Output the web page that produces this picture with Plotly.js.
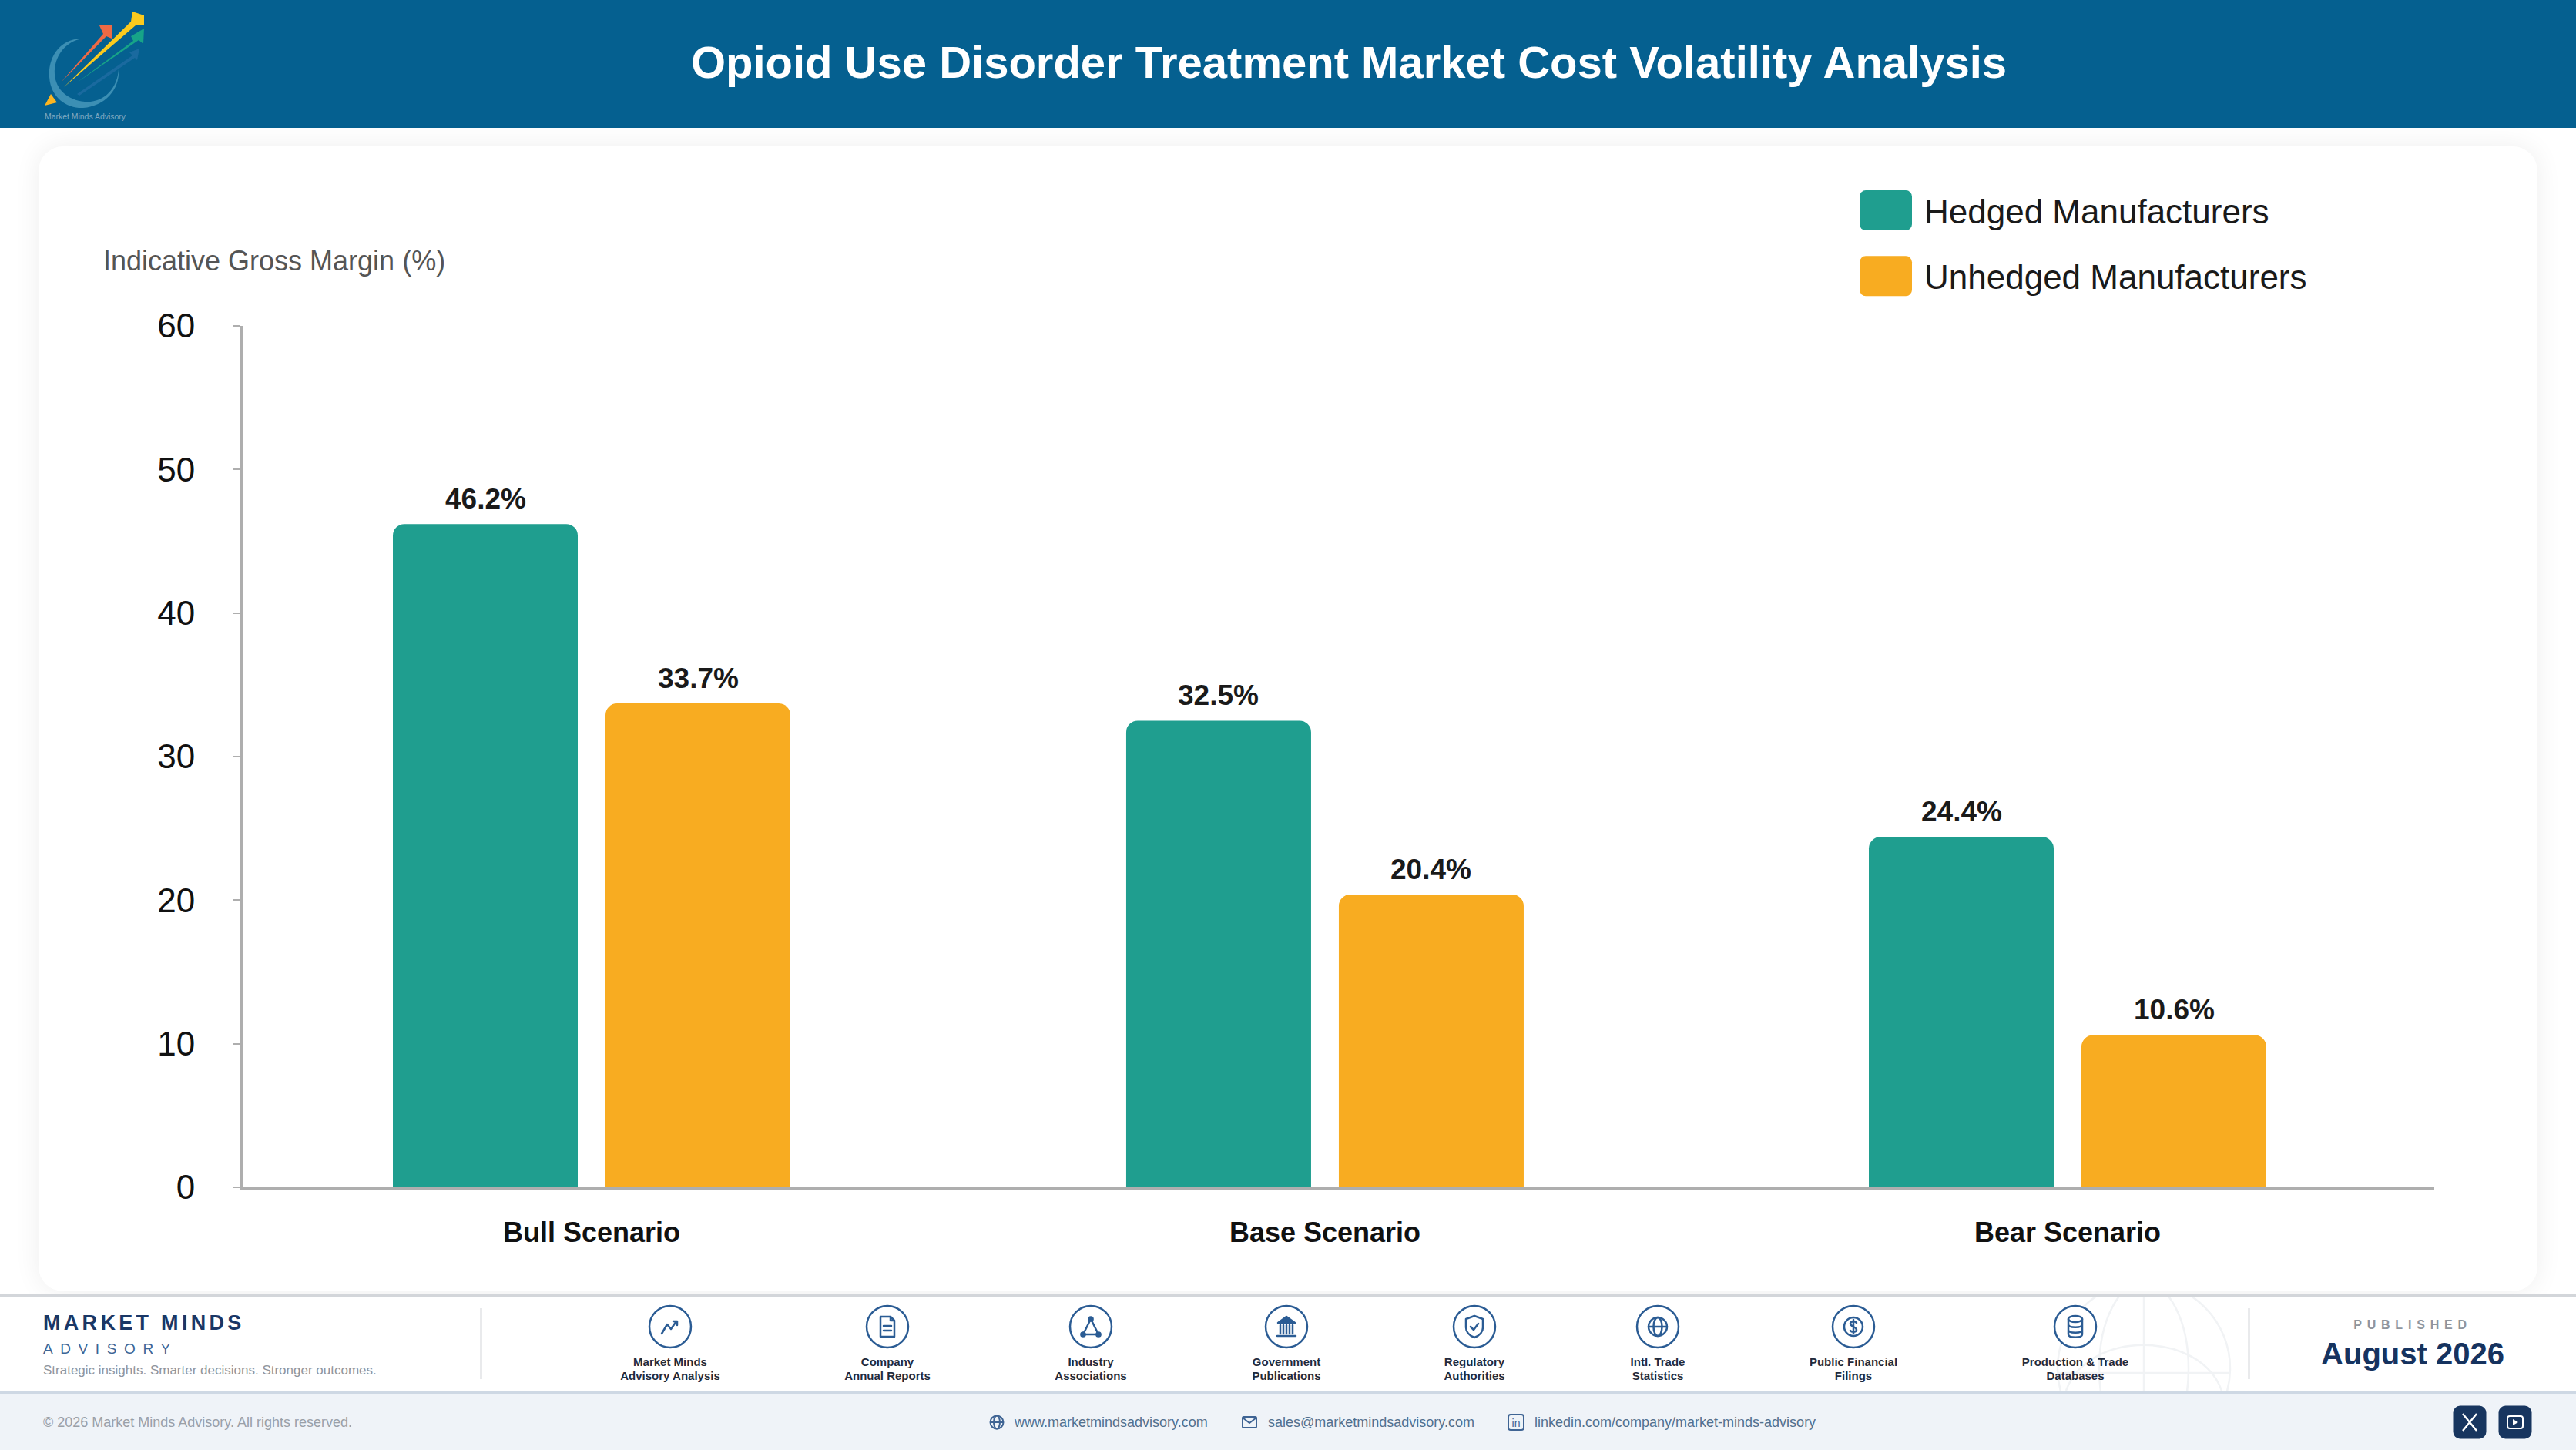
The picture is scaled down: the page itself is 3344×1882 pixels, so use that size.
<!DOCTYPE html>
<html>
<head>
<meta charset="utf-8">
<script src="https://cdn.plot.ly/plotly-3.0.1.min.js"></script>
<style>
html,body{margin:0;padding:0;width:3344px;height:1882px;overflow:hidden;background:#fff;font-family:"Liberation Sans",Arial,sans-serif}
.abs{position:absolute}
.t{position:absolute;white-space:nowrap;line-height:1}
#plot{position:absolute;left:0;top:0;width:3344px;height:1882px;z-index:5}
</style>
</head>
<body>
<div class="abs" style="left:0;top:0;width:3344px;height:166px;background:#056090"></div>
<svg class="abs" style="left:0;top:0;width:220px;height:166px" viewBox="0 0 220 166">
  <path d="M107 50 C75 50 62 78 64 100 C66 128 88 141 108 140 C136 138 156 116 154 90 C152 116 134 134 110 132 C88 130 72 116 71 96 C70 74 84 54 107 50Z" fill="#3c8fb4"/>
  <path d="M100 122 L172 72 L168 68 L181 63 L178 78 L175 75 L103 124Z" fill="#1a6a9f"/>
  <path d="M100 107 L173 53 L170 47 L187 37 L186 57 L180 52Z" fill="#17a488"/>
  <path d="M79 107 L134 44 L129 33 L145 32 L145 50 L138 47Z" fill="#ee6a45"/>
  <path d="M83 113 L170 28 L172 15 L187 20 L187 33 L176 33Z" fill="#fbca1d"/>
  <path d="M66 122 L58 137 L74 133Z" fill="#fbb521"/>
  <text x="58" y="155" font-size="11" fill="#7fa9c2" font-family="Liberation Sans" textLength="105" lengthAdjust="spacingAndGlyphs">Market Minds Advisory</text>
</svg>

<div class="abs" style="left:50px;top:190px;width:3244px;height:1486px;background:#fff;border-radius:32px;box-shadow:0 0 34px rgba(0,0,0,.07)"></div>

<div class="abs" style="left:0;top:1679px;width:3344px;background:#fff;border-top:4px solid #d3d6da;border-bottom:4px solid #ced8e4;box-sizing:border-box;height:130px"></div>
<div class="abs" style="left:0;top:1809px;width:3344px;height:73px;background:#eff3f8"></div>

<svg class="abs" style="left:2640px;top:1684px;width:290px;height:121px" viewBox="0 0 290 121" fill="none" stroke="#f1f3f5" stroke-width="2.5">
  <circle cx="143" cy="92" r="112"/>
  <ellipse cx="143" cy="92" rx="58" ry="112"/>
  <path d="M143 -20 V121"/>
  <path d="M31 98 H255"/>
  <path d="M42 121 C70 42 216 42 244 121"/>
</svg>

<div id="foot"></div>
<div id="plot"></div>

<script>
// ---- chart data ----
var scenarios = ['Bull Scenario', 'Base Scenario', 'Bear Scenario'];
var scenarioSlots = [0, 0.9937, 2];
var hedged = [46.2, 32.5, 24.4];
var unhedged = [33.7, 20.4, 10.6];
var yTicks = [0, 10, 20, 30, 40, 50, 60];
var seriesNames = ['Hedged Manufacturers', 'Unhedged Manufacturers'];
var chartTitle = 'Opioid Use Disorder Treatment Market Cost Volatility Analysis';
var yTitle = 'Indicative Gross Margin (%)';

// ---- footer content ----
var sourceLabels = [
  ['Market Minds', 'Advisory Analysis'], ['Company', 'Annual Reports'], ['Industry', 'Associations'],
  ['Government', 'Publications'], ['Regulatory', 'Authorities'], ['Intl. Trade', 'Statistics'],
  ['Public Financial', 'Filings'], ['Production & Trade', 'Databases']
];
var sourceCentres = [870, 1152, 1416, 1670, 1914, 2152, 2406, 2694];
var sourceIcons = [
  '<path d="M-11 9 L-4 -3 L1 3 L8 -7 M4 -7 H9 V-2" fill="none"/>',
  '<path d="M-9 -13 H4 L9 -8 V13 H-9Z M4 -13 V-8 H9 M-5 -1 H5 M-5 5 H5" fill="none"/>',
  '<path d="M0 -10 L-10 10 H10Z" fill="none"/><circle cx="0" cy="-10" r="2.6" fill="#2b5c94"/><circle cx="-10" cy="10" r="2.6" fill="#2b5c94"/><circle cx="10" cy="10" r="2.6" fill="#2b5c94"/>',
  '<path d="M0 -13 L11 -5 H-11Z" fill="#2b5c94"/><path d="M-8 -2 V9 M-4 -2 V9 M0 -2 V9 M4 -2 V9 M8 -2 V9 M-12 12 H12" fill="none"/>',
  '<path d="M0 -14 L11 -10 V1 C11 8 5 12 0 14 C-5 12 -11 8 -11 1 V-10Z" fill="none"/><path d="M-5 0 L-1 4 L5 -4" fill="none"/>',
  '<circle r="12" fill="none"/><ellipse rx="5.5" ry="12" fill="none"/><path d="M-12 0 H12" fill="none"/>',
  '<circle r="12" fill="none"/><path d="M4 -5 C2 -8 -4 -7 -4 -4 C-4 0 4 0 4 4 C4 7 -2 8 -4 5 M0 -9 V9" fill="none"/>',
  '<ellipse cy="-10" rx="9" ry="4" fill="none"/><path d="M-9 -10 V10 C-9 15 9 15 9 10 V-10 M-9 -3 C-9 2 9 2 9 -3 M-9 4 C-9 9 9 9 9 4" fill="none"/>'
];
var contacts = [
  {x: 1317, text: 'www.marketmindsadvisory.com'},
  {x: 1646, text: 'sales@marketmindsadvisory.com'},
  {x: 1992, text: 'linkedin.com/company/market-minds-advisory'}
];

var foot = document.getElementById('foot');
function addText(str, x, y, css, centre) {
  var d = document.createElement('div');
  d.className = 't';
  d.textContent = str;
  d.style.cssText = 'left:' + x + 'px;top:' + y + 'px;transform:translate(' + (centre ? '-50%' : '0') + ',-50%);' + css;
  foot.appendChild(d);
}
function addSvg(x, y, w, h, inner, extra) {
  var wrap = document.createElement('div');
  wrap.className = 'abs';
  wrap.style.cssText = 'left:' + (x - w / 2) + 'px;top:' + (y - h / 2) + 'px;width:' + w + 'px;height:' + h + 'px;' + (extra || '');
  wrap.innerHTML = '<svg width="' + w + '" height="' + h + '" viewBox="' + (-w / 2) + ' ' + (-h / 2) + ' ' + w + ' ' + h + '">' + inner + '</svg>';
  foot.appendChild(wrap);
}
addText('MARKET MINDS', 56, 1717, 'font-size:27px;font-weight:bold;letter-spacing:4.3px;color:#1a3766');
addText('ADVISORY', 56, 1750, 'font-size:19px;letter-spacing:9.6px;color:#3c6596');
addText('Strategic insights. Smarter decisions. Stronger outcomes.', 56, 1778, 'font-size:17px;color:#8f959d');
addSvg(624, 1744, 3, 92, '<rect x="-1" y="-46" width="2" height="92" fill="#d3d6da"/>');
addSvg(2919, 1744, 3, 92, '<rect x="-1" y="-46" width="2" height="92" fill="#d3d6da"/>');
sourceLabels.forEach(function (lines, i) {
  var cx = sourceCentres[i];
  addSvg(cx, 1722, 60, 60, '<g fill="none" stroke="#2b5c94" stroke-width="2.5" stroke-linejoin="round" stroke-linecap="round"><circle r="27" fill="#fff"/>' + sourceIcons[i] + '</g>');
  addText(lines[0], cx, 1767, 'font-size:15px;font-weight:bold;color:#1f2b3d', true);
  addText(lines[1], cx, 1785, 'font-size:15px;font-weight:bold;color:#1f2b3d', true);
});
addText('PUBLISHED', 3132, 1720, 'font-size:16px;font-weight:bold;letter-spacing:6.8px;color:#8f959d', true);
addText('August 2026', 3132, 1757, 'font-size:40px;font-weight:bold;color:#16335f', true);
addText('\u00A9 2026 Market Minds Advisory. All rights reserved.', 56, 1846, 'font-size:18px;color:#9aa0a8');
contacts.forEach(function (c) {
  addText(c.text, c.x, 1846, 'font-size:18px;color:#52708f');
});
var cIcon = 'fill="none" stroke="#3f6494" stroke-width="2" stroke-linejoin="round"';
addSvg(1294, 1846, 24, 24, '<g ' + cIcon + '><circle r="8.5"/><ellipse rx="4" ry="8.5"/><path d="M-8.5 0 H8.5"/></g>');
addSvg(1622, 1846, 24, 24, '<g ' + cIcon + '><rect x="-9" y="-7" width="18" height="14" rx="1.5"/><path d="M-9 -6 L0 1 L9 -6"/></g>');
addSvg(1968, 1846, 26, 26, '<g ' + cIcon + '><rect x="-10" y="-10" width="20" height="20" rx="3"/></g><text x="0" y="5.5" text-anchor="middle" font-size="14" fill="#3f6494" font-family="Liberation Sans">in</text>');
addSvg(3206, 1846, 44, 44, '<rect x="-21.5" y="-21.5" width="43" height="43" rx="9" fill="#17355f"/><path d="M-9 -11 L9 11 M9 -11 L-9 11" stroke="#fff" stroke-width="2.4" fill="none"/>');
addSvg(3265, 1846, 44, 44, '<rect x="-21.5" y="-21.5" width="43" height="43" rx="9" fill="#17355f"/><rect x="-10" y="-8" width="20" height="16" rx="3" stroke="#fff" stroke-width="2" fill="none"/><path d="M-3 -4 L4 0 L-3 4Z" fill="#fff"/>');

// ---- chart ----
var FONT = '"Liberation Sans", Arial, sans-serif';
var teal = '#1f9e8f', amber = '#f8ac21';
var W = 3344, H = 1882, plotL = 315, plotR = 3160, plotT = 423, plotB = 1541;
var pitch = 958, groupCentre = 768;
function xAt(px) { return (px - groupCentre) / pitch; }

function barTrace(name, values, colour, offsetPx, group) {
  return {
    type: 'bar', name: name, x: scenarioSlots, y: values,
    width: 240 / pitch, offset: offsetPx / pitch, legendgroup: group,
    marker: {color: colour, cornerradius: 15, line: {width: 0}},
    hoverinfo: 'skip'
  };
}
var traces = [
  barTrace(seriesNames[0], hedged, teal, -258, 'a'),
  barTrace(seriesNames[1], unhedged, amber, 18, 'b')
];

var labelAnnotations = [];
function addLabels(values, offsetPx) {
  values.forEach(function (v, i) {
    labelAnnotations.push({
      x: scenarioSlots[i] + (offsetPx + 120) / pitch, y: v, xref: 'x', yref: 'y',
      text: v.toFixed(1) + '%', showarrow: false, xanchor: 'center', yanchor: 'bottom', yshift: 10,
      font: {family: FONT, size: 37, color: '#1a1a1a', weight: 'bold'}
    });
  });
}
addLabels(hedged, -258);
addLabels(unhedged, 18);
labelAnnotations.push({
  xref: 'paper', yref: 'paper', x: (132 - plotL) / (plotR - plotL), y: 1 + (plotT - 339) / (plotB - plotT),
  text: yTitle, showarrow: false, xanchor: 'left', yanchor: 'middle',
  font: {family: FONT, size: 36, color: '#555555'}
});

var layout = {
  width: W, height: H, autosize: false,
  margin: {l: plotL, r: W - plotR, t: plotT, b: H - plotB, pad: 0},
  paper_bgcolor: 'rgba(0,0,0,0)', plot_bgcolor: 'rgba(0,0,0,0)',
  font: {family: FONT},
  title: {
    text: chartTitle, xref: 'container', yref: 'container', x: 1751 / W, y: 1 - 81 / H,
    xanchor: 'center', yanchor: 'middle',
    font: {family: FONT, size: 58, color: '#ffffff', weight: 'bold'}
  },
  xaxis: {
    type: 'linear', range: [xAt(plotL), xAt(plotR)], tickmode: 'array',
    tickvals: scenarioSlots, ticktext: scenarios,
    ticks: '', showgrid: false, zeroline: false, showline: true, linecolor: '#aeaeae', linewidth: 3,
    ticklabelstandoff: 25,
    tickfont: {family: FONT, size: 36, color: '#111111', weight: 'bold'}
  },
  yaxis: {
    range: [0, 60], tickmode: 'array', tickvals: yTicks, ticktext: yTicks.map(String),
    ticks: 'outside', ticklen: 10, tickwidth: 2, tickcolor: '#aeaeae',
    showgrid: false, zeroline: false, showline: true, linecolor: '#aeaeae', linewidth: 3,
    ticklabelstandoff: 40,
    tickfont: {family: FONT, size: 44, color: '#111111'}
  },
  barmode: 'overlay',
  showlegend: true,
  legend: {
    x: (2414 - plotL) / (plotR - plotL), xanchor: 'left', xref: 'paper',
    y: 1 + (plotT - 238) / (plotB - plotT), yanchor: 'top', yref: 'paper',
    bgcolor: 'rgba(0,0,0,0)', borderwidth: 0, itemwidth: 74, tracegroupgap: 25,
    itemclick: false, itemdoubleclick: false,
    font: {family: FONT, size: 44, color: '#1a1a1a'}
  },
  annotations: labelAnnotations
};

Plotly.newPlot('plot', traces, layout, {displayModeBar: false, responsive: false}).then(function (gd) {
  var items = gd.querySelectorAll('.legend .traces');
  items.forEach(function (g) {
    var p = g.querySelector('.legendpoints path');
    if (p) {
      p.setAttribute('transform', 'translate(0,0)');
      p.setAttribute('d', 'M8,-26H60A8,8 0 0 1 68,-18V18A8,8 0 0 1 60,26H8A8,8 0 0 1 0,18V-18A8,8 0 0 1 8,-26Z');
    }
  });
});
</script>
</body>
</html>
